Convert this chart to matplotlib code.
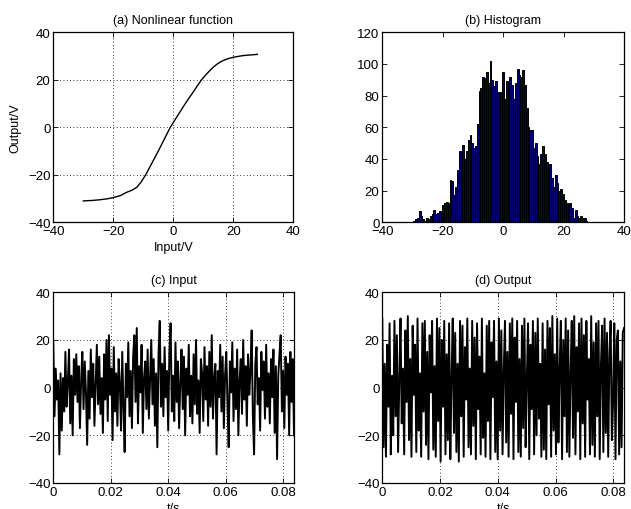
import numpy as np
import matplotlib
matplotlib.use("Agg")
import matplotlib.pyplot as plt

plt.rcParams['font.family'] = ['Liberation Sans', 'DejaVu Sans']
plt.rcParams['font.size'] = 9.5

# (a) nonlinear function
nl_in = [-30, -27, -24.4, -22, -20, -17.5, -15.6, -13.8, -12.2, -10.7, -9.2, -5, -1, 4, 9.4,
         11.5, 13.3, 14.8, 16.1, 18, 20, 23.3, 28]
nl_out = [-31, -30.8, -30.5, -30.1, -29.6, -28.7, -27.4, -26.5, -25.3, -23.0, -20, -10, 0, 10, 20,
          23.0, 25.3, 26.8, 27.8, 28.8, 29.5, 30.2, 30.7]

# (b) histogram: bin centres and counts
hist_start = -29.4
hist_width = 0.6
hist_counts = [1, 2, 3, 7, 4, 2, 1, 3, 2, 4,
               5, 8, 5, 6, 7, 6, 11, 12, 13, 12,
               27, 26, 17, 22, 33, 45, 36, 49, 40, 45,
               52, 55, 50, 47, 48, 62, 83, 85, 92, 91,
               95, 88, 102, 90, 86, 89, 82, 80, 82, 95,
               78, 89, 88, 92, 87, 78, 88, 97, 93, 92,
               96, 87, 72, 60, 58, 58, 47, 50, 42, 37,
               43, 48, 43, 38, 30, 37, 28, 22, 30, 25,
               20, 21, 18, 14, 12, 10, 12, 9, 3, 8,
               4, 3, 4, 3, 3, 1]
hist_centers = [hist_start + hist_width * i for i in range(len(hist_counts))]

# (c) input signal
input_signal = [19, -12, 8, -5, 3, -28, 6, -18, 4, -10,
                15, -8, 2, 16, -15, 5, -20, 12, -3, 14,
                -6, 9, -17, 3, 15, -9, 11, -2, -24, 7,
                -13, 16, -4, 10, -16, 1, 18, -7, 13, -11,
                4, -19, 14, -5, 20, -14, 22, -3, 8, -22,
                17, -10, 6, -16, 12, 2, -18, 15, -8, -27,
                10, -4, 19, -12, 7, -17, 13, 22, -6, 25,
                -15, 9, -2, 18, -19, 4, 11, -9, 16, -13,
                3, 20, -7, 12, -16, 6, -25, 14, 28, -8,
                10, -12, 17, -4, 7, -18, 15, 27, -10, 5,
                -14, 19, -6, 11, -17, 2, 16, -9, 13, -20,
                8, -3, 18, -12, 5, -15, 14, -7, 20, -11,
                3, -19, 12, 6, -14, 17, -5, 9, -16, 15,
                -8, 22, -13, 4, 10, -28, 7, -4, 18, -10,
                13, -17, 5, 15, -6, -25, 11, -2, 19, -14,
                8, -9, 16, -20, 3, 12, -11, 20, -5, 9,
                -16, 14, -3, 7, 24, -12, -28, 10, 17, -7,
                4, -18, 15, -1, 11, -13, 18, -8, 6, -15,
                12, -4, 16, -19, 9, -30, 5, 14, 22, -10,
                7, -17, 13, -3, 10, -20, 15, -6, 12, -20]

# (d) output signal
output_signal = [29, -25, 10, -29, 18, -8, 27, -28, 5, -20,
                 28, -12, 22, -27, 3, 29, -15, 8, -28, 24,
                 -6, 30, -22, 12, -29, 26, -3, 18, -27, 29,
                 -18, 6, -29, 27, -10, 28, -24, 15, -30, 22,
                 -2, 28, -26, 9, -29, 29, -14, 25, -31, 20,
                 -8, 28, -28, 14, -22, 27, -30, 4, 29, -19,
                 23, -27, 10, -31, 28, -12, 26, -29, 17, -5,
                 29, -25, 8, -28, 28, -16, 21, -30, 27, -9,
                 13, -28, 29, -21, 6, -29, 26, -14, 28, -30,
                 19, -4, 28, -27, 11, -30, 29, -18, 24, -28,
                 7, 28, -23, 15, -29, 27, -11, 29, -30, 21,
                 -6, 28, -27, 12, -29, 26, -17, 29, -25, 4,
                 27, -30, 18, -9, 28, -28, 23, -20, 29, -13,
                 10, -29, 27, -26, 16, -30, 28, -7, 25, -29,
                 30, -18, 14, -28, 29, -23, 8, 28, -30, 20,
                 -12, 29, -27, 24, -29, 6, 28, -21, 30, -28,
                 17, -10, 27, -30, 29, -15, 22, -29, 28, -5,
                 12, -28, 30, -24, 19, -29, 27, -12, 28, -30,
                 9, 26, -27, 29, -19, 23, -29, 14, 28, -22,
                 -6, 27, -30, 20, 24, -28, 11, -25, 23, 25]

t_end = 0.0837
t = np.linspace(0, t_end, len(input_signal))

fig = plt.figure(figsize=(6.31, 5.10), dpi=100)
W, H = 631, 510

def add_ax(x0, y0, x1, y1):
    return fig.add_axes([x0 / W, 1 - y1 / H, (x1 - x0) / W, (y1 - y0) / H])

ax_a = add_ax(53.3, 33.3, 293.3, 223.3)
ax_b = add_ax(382.3, 33.3, 624, 223.3)
ax_c = add_ax(53.3, 293.3, 294, 484)
ax_d = add_ax(382.3, 293.3, 624, 484)

def style(ax, grid=True):
    ax.tick_params(direction='in', top=True, right=True, length=3.5, width=0.6,
                   labelsize=9.5, pad=2, colors='black')
    for s in ax.spines.values():
        s.set_linewidth(0.9)
    if grid:
        ax.grid(True, linestyle=(0, (1, 3)), color='black', linewidth=0.6)

ax_a.plot(nl_in, nl_out, color='black', lw=1.0)
ax_a.set_xlim(-40, 40)
ax_a.set_ylim(-40, 40)
ax_a.set_xticks([-40, -20, 0, 20, 40])
ax_a.set_yticks([-40, -20, 0, 20, 40])
ax_a.set_title('(a) Nonlinear function', fontsize=9, pad=7)
ax_a.set_xlabel('Input/V', fontsize=9, labelpad=3)
ax_a.set_ylabel('Output/V', fontsize=9, labelpad=5)
style(ax_a)

ax_b.bar(hist_centers, hist_counts, width=hist_width, color='#000070',
         edgecolor='black', linewidth=0.7)
ax_b.set_xlim(-40, 40)
ax_b.set_ylim(0, 120)
ax_b.set_xticks([-40, -20, 0, 20, 40])
ax_b.set_yticks([0, 20, 40, 60, 80, 100, 120])
ax_b.set_title('(b) Histogram', fontsize=9, pad=7)
style(ax_b, grid=False)

ax_c.plot(t, input_signal, color='black', lw=1.4)
ax_c.set_xlim(0, t_end)
ax_c.set_ylim(-40, 40)
ax_c.set_xticks([0, 0.02, 0.04, 0.06, 0.08])
ax_c.set_xticklabels(['0', '0.02', '0.04', '0.06', '0.08'])
ax_c.set_yticks([-40, -20, 0, 20, 40])
ax_c.set_title('(c) Input', fontsize=9, pad=7)
ax_c.set_xlabel('t/s', fontsize=9, labelpad=3)
style(ax_c)

ax_d.plot(t, output_signal, color='black', lw=1.4)
ax_d.set_xlim(0, t_end)
ax_d.set_ylim(-40, 40)
ax_d.set_xticks([0, 0.02, 0.04, 0.06, 0.08])
ax_d.set_xticklabels(['0', '0.02', '0.04', '0.06', '0.08'])
ax_d.set_yticks([-40, -20, 0, 20, 40])
ax_d.set_title('(d) Output', fontsize=9, pad=7)
ax_d.set_xlabel('t/s', fontsize=9, labelpad=3)
style(ax_d)

fig.savefig('out.png', dpi=100)
